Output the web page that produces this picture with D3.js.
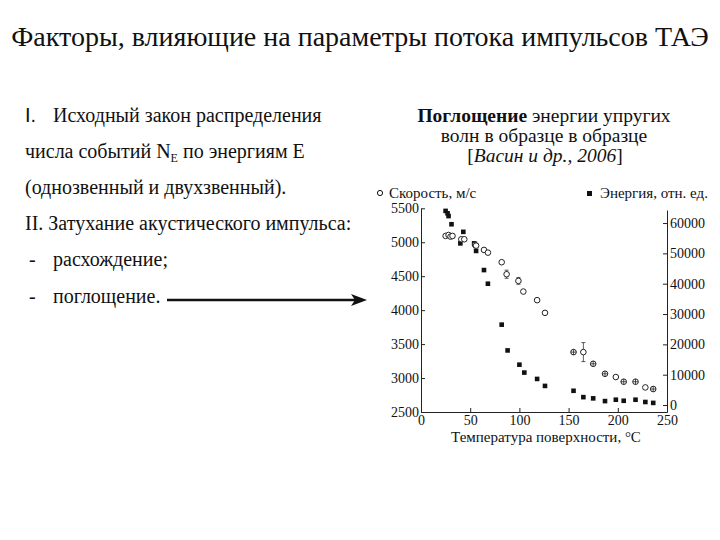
<!DOCTYPE html>
<html>
<head>
<meta charset="utf-8">
<script src="https://cdn.jsdelivr.net/npm/d3@7"></script>
<style>
    body { margin: 0; background: white; }
    text { font-family: "Liberation Serif", "DejaVu Serif", serif; fill: #111; }
</style>
</head>
<body>
<div id="diagram"></div>
<script>
// temperature, °C
const energyTemp = [25, 27, 28, 31, 32, 40, 43, 54, 56, 64, 68, 82, 88, 100, 105, 118, 126, 155, 165, 175, 187, 198, 206, 218, 228, 236]
// energy, rel. units
const energyValues = [64000, 63200, 62300, 59600, 55700, 53300, 57100, 53300, 50800, 44500, 40000, 26500, 18000, 13300, 10700, 8600, 6300, 4700, 2600, 2200, 1300, 1750, 1400, 1750, 1000, 700]

const speedTemp = [25, 28, 30, 32, 41, 44, 55, 56, 64, 68, 82, 87, 99, 104, 118, 126, 155, 165, 175, 187, 198, 206, 218, 228, 236]
// speed, m/s
const speedValues = [5093, 5107, 5083, 5093, 5044, 5044, 4960, 4950, 4887, 4847, 4706, 4529, 4431, 4274, 4147, 3960, 3382, 3382, 3210, 3063, 3015, 2946, 2946, 2862, 2838]
const speedErr = [0, 0, 0, 0, 0, 0, 40, 0, 0, 0, 0, 60, 50, 0, 0, 0, 0, 140, 0, 0, 0, 0, 0, 0, 0]
// 'o' open circle, 'x' circle with cross
const speedMark = ['o', 'o', 'o', 'o', 'o', 'o', 'o', 'o', 'o', 'o', 'o', 'o', 'o', 'o', 'o', 'o', 'x', 'o', 'x', 'x', 'o', 'x', 'x', 'o', 'x']

const xTicks = [0, 50, 100, 150, 200, 250]
const speedTicks = [2500, 3000, 3500, 4000, 4500, 5000, 5500]
const energyTicks = [0, 10000, 20000, 30000, 40000, 50000, 60000]

const width = 720;
const height = 540;
const serif = '"Liberation Serif", "DejaVu Serif", serif';

let svg = d3.select('#diagram')
    .append('svg')
    .attr('width', width)
    .attr('height', height)

svg.append('text')
    .attr('x', 360)
    .attr('y', 46)
    .attr('text-anchor', 'middle')
    .style('font-family', serif)
    .style('font-size', '28px')
    .text('Факторы, влияющие на параметры потока импульсов ТАЭ')

drawLeftText()
drawCaption()
drawChart()

function drawLeftText() {
    let g = svg.append('g').style('font-size', '20px').style('font-family', serif)
    const lineY = [122, 158, 194, 230, 266, 303]

    g.append('text').attr('x', 25).attr('y', lineY[0])
        .style('font-family', '"Liberation Sans", sans-serif')
        .text('I.')
    g.append('text').attr('x', 53).attr('y', lineY[0]).text('Исходный закон распределения')

    let t2 = g.append('text').attr('x', 25).attr('y', lineY[1])
    t2.append('tspan').text('числа событий N')
    t2.append('tspan').attr('dy', 4).style('font-size', '12px').text('E')
    t2.append('tspan').attr('dy', -4).text(' по энергиям E')

    g.append('text').attr('x', 25).attr('y', lineY[2]).text('(однозвенный и двухзвенный).')
    g.append('text').attr('x', 25).attr('y', lineY[3]).text('II. Затухание акустического импульса:')

    g.append('text').attr('x', 29).attr('y', lineY[4]).text('-')
    g.append('text').attr('x', 53).attr('y', lineY[4]).text('расхождение;')
    g.append('text').attr('x', 29).attr('y', lineY[5]).text('-')
    g.append('text').attr('x', 53).attr('y', lineY[5]).text('поглощение.')

    //arrow pointing to the chart
    svg.append('line')
        .attr('x1', 167).attr('y1', 300)
        .attr('x2', 356).attr('y2', 300)
        .attr('stroke', '#111')
        .attr('stroke-width', 2.6)
    svg.append('path')
        .attr('d', 'M367,300L351,294L355,300L351,306Z')
        .attr('fill', '#111')
}

function drawCaption() {
    let g = svg.append('g')
        .attr('text-anchor', 'middle')
        .style('font-family', serif)
        .style('font-size', '19.5px')
    let l1 = g.append('text').attr('x', 544).attr('y', 122)
    l1.append('tspan').style('font-weight', 'bold').text('Поглощение')
    l1.append('tspan').text(' энергии упругих')
    g.append('text').attr('x', 544).attr('y', 142).text('волн в образце в образце')
    let l3 = g.append('text').attr('x', 545).attr('y', 162)
    l3.append('tspan').text('[')
    l3.append('tspan').style('font-style', 'italic').text('Васин и др., 2006')
    l3.append('tspan').text(']')
}

function drawChart() {
    let x = d3.scaleLinear().domain([0, 250]).range([421, 667])
    let ySpeed = d3.scaleLinear().domain([2500, 5500]).range([412, 208.3])
    let yEnergy = d3.scaleLinear().domain([-2300, 64300]).range([412, 210])

    let axisStyle = g => {
        g.selectAll('path, line').attr('stroke', '#222')
        g.selectAll('text')
            .style('font-family', serif)
            .style('font-size', '14px')
            .attr('fill', '#111')
    }

    svg.append('g')
        .attr('transform', 'translate(0,412)')
        .call(d3.axisBottom(x).tickValues(xTicks).tickSizeInner(-4).tickSizeOuter(0).tickPadding(3))
        .call(axisStyle)

    svg.append('g')
        .attr('transform', 'translate(421,0)')
        .call(d3.axisLeft(ySpeed).tickValues(speedTicks).tickFormat(d3.format('d')).tickSizeInner(-4).tickSizeOuter(0).tickPadding(2))
        .call(axisStyle)

    svg.append('g')
        .attr('transform', 'translate(667,0)')
        .call(d3.axisRight(yEnergy).tickValues(energyTicks).tickFormat(d3.format('d')).tickSizeInner(-4).tickSizeOuter(0).tickPadding(3))
        .call(axisStyle)

    svg.append('text')
        .attr('x', 546)
        .attr('y', 442)
        .attr('text-anchor', 'middle')
        .style('font-family', serif)
        .style('font-size', '15px')
        .text('Температура поверхности, °С')

    //legend
    svg.append('circle').attr('cx', 380).attr('cy', 193).attr('r', 2.6)
        .attr('fill', 'white').attr('stroke', '#111')
    svg.append('text').attr('x', 389).attr('y', 198).style('font-family', serif).style('font-size', '15px').text('Скорость, м/с')
    svg.append('rect').attr('x', 587).attr('y', 191).attr('width', 5).attr('height', 5).attr('fill', '#111')
    svg.append('text').attr('x', 600).attr('y', 198).style('font-family', serif).style('font-size', '15px').text('Энергия, отн. ед.')

    let energy = energyTemp.map((t, i) => ({ t: t, v: energyValues[i] }))
    let speed = speedTemp.map((t, i) => ({ t: t, v: speedValues[i], e: speedErr[i], m: speedMark[i] }))

    svg.append('g')
        .selectAll('rect')
        .data(energy)
        .enter()
        .append('rect')
        .attr('x', d => x(d.t) - 2.3)
        .attr('y', d => yEnergy(d.v) - 2.3)
        .attr('width', 4.6)
        .attr('height', 4.6)
        .attr('fill', '#111')

    let pts = svg.append('g')
        .selectAll('g')
        .data(speed)
        .enter()
        .append('g')
        .attr('transform', d => `translate(${x(d.t)},${ySpeed(d.v)})`)

    pts.filter(d => d.e > 0)
        .append('path')
        .attr('d', d => {
            let h = ySpeed(d.v - d.e) - ySpeed(d.v)
            return `M0,${-h}V${h}M-2,${-h}H2M-2,${h}H2`
        })
        .attr('stroke', '#333')
        .attr('fill', 'none')
        .attr('stroke-width', 0.8)

    pts.append('circle')
        .attr('r', 2.8)
        .attr('fill', 'white')
        .attr('stroke', '#222')
        .attr('stroke-width', 1)

    pts.filter(d => d.m == 'x')
        .append('path')
        .attr('d', 'M-2.8,0H2.8M0,-2.8V2.8')
        .attr('stroke', '#222')
        .attr('stroke-width', 0.8)
}
</script>
</body>
</html>
